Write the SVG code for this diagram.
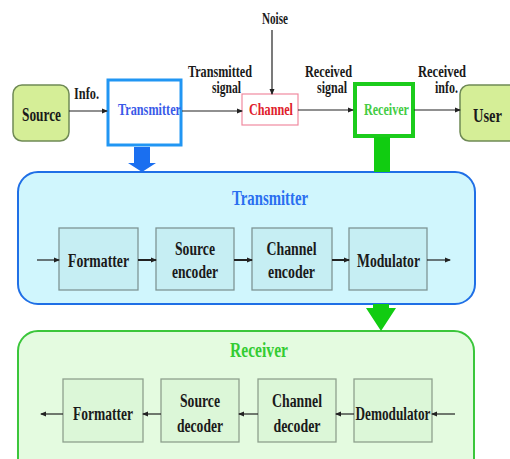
<svg xmlns="http://www.w3.org/2000/svg" width="510" height="459" viewBox="0 0 510 459">
  <defs>
    <marker id="ah" markerWidth="6" markerHeight="6" refX="5" refY="3" orient="auto" markerUnits="userSpaceOnUse">
      <path d="M0,0.5 L6,3 L0,5.5 Z" fill="#222"/>
    </marker>
    <style>
      text { font-family: "Liberation Serif", "Times New Roman", serif; font-weight: bold; text-anchor: middle; }
      .lbl { font-size: 16px; fill: #1a1a1a; }
      .blk { font-size: 18px; fill: #1a1a1a; }
      .term { fill: #d5ee97; stroke: #6f8a55; stroke-width: 1.5; }
      .sub-tx { fill: #c6eef3; stroke: #7e9595; stroke-width: 1.3; }
      .sub-rx { fill: #dcf7d8; stroke: #8ea08e; stroke-width: 1.3; }
      .wire { stroke: #222; stroke-width: 1.2; fill: none; marker-end: url(#ah); }
      .wire2 { stroke: #222; stroke-width: 2; fill: none; marker-end: url(#ah); }
    </style>
  </defs>

  <rect width="510" height="459" fill="#ffffff"/>

  <!-- expanded transmitter panel -->
  <g id="tx-panel">
    <rect x="18" y="172" width="457" height="132" rx="20" fill="#d0f6fd" stroke="#1f6fe6" stroke-width="2"/>
    <text x="270" y="205" font-size="21" fill="#2a6ff0" textLength="76" lengthAdjust="spacingAndGlyphs">Transmitter</text>
  </g>

  <!-- expanded receiver panel -->
  <g id="rx-panel">
    <rect x="18" y="331" width="456" height="150" rx="20" fill="#e4fbe0" stroke="#3bc63b" stroke-width="2"/>
    <text x="259" y="357" font-size="21" fill="#33cc33" textLength="58" lengthAdjust="spacingAndGlyphs">Receiver</text>
  </g>

  <!-- top-level chain -->
  <g id="source">
    <rect class="term" x="13" y="85" width="56" height="56" rx="9"/>
    <text class="blk" x="41.5" y="121" textLength="39" lengthAdjust="spacingAndGlyphs">Source</text>
  </g>
  <g id="transmitter">
    <rect x="108" y="80" width="73" height="65" fill="#ffffff" stroke="#2196f3" stroke-width="3"/>
    <text class="lbl" x="149.5" y="115" style="fill:#3a5ae8" textLength="63" lengthAdjust="spacingAndGlyphs">Transmitter</text>
  </g>
  <g id="channel">
    <rect x="242" y="94" width="56" height="31" fill="#ffffff" stroke="#f08aa0" stroke-width="1.2"/>
    <text class="lbl" x="271" y="115" style="fill:#e0202a" textLength="44" lengthAdjust="spacingAndGlyphs">Channel</text>
  </g>
  <g id="receiver">
    <rect x="355" y="84" width="58" height="52" fill="#ffffff" stroke="#1ccc1c" stroke-width="4"/>
    <text class="lbl" x="386.5" y="115" style="fill:#44cc44" textLength="45" lengthAdjust="spacingAndGlyphs">Receiver</text>
  </g>
  <g id="user">
    <rect class="term" x="460" y="85" width="60" height="56" rx="9"/>
    <text x="487.5" y="122" font-size="19" fill="#1a1a1a" textLength="29" lengthAdjust="spacingAndGlyphs">User</text>
  </g>

  <!-- transmitter stages -->
  <g id="tx-formatter">
    <rect class="sub-tx" x="59" y="228" width="79" height="62"/>
    <text class="blk" x="98.5" y="267" textLength="61" lengthAdjust="spacingAndGlyphs">Formatter</text>
  </g>
  <g id="tx-source-encoder">
    <rect class="sub-tx" x="156" y="228" width="78" height="62"/>
    <text class="blk" x="195" y="255" textLength="40" lengthAdjust="spacingAndGlyphs">Source</text>
    <text class="blk" x="195" y="278" textLength="46" lengthAdjust="spacingAndGlyphs">encoder</text>
  </g>
  <g id="tx-channel-encoder">
    <rect class="sub-tx" x="252" y="228" width="80" height="62"/>
    <text class="blk" x="291.5" y="255" textLength="50" lengthAdjust="spacingAndGlyphs">Channel</text>
    <text class="blk" x="291.5" y="278" textLength="47" lengthAdjust="spacingAndGlyphs">encoder</text>
  </g>
  <g id="tx-modulator">
    <rect class="sub-tx" x="349" y="228" width="78" height="62"/>
    <text class="blk" x="388.5" y="267" textLength="63" lengthAdjust="spacingAndGlyphs">Modulator</text>
  </g>

  <!-- receiver stages -->
  <g id="rx-formatter">
    <rect class="sub-rx" x="63" y="379" width="80" height="63"/>
    <text class="blk" x="103" y="420" textLength="60" lengthAdjust="spacingAndGlyphs">Formatter</text>
  </g>
  <g id="rx-source-decoder">
    <rect class="sub-rx" x="161" y="379" width="78" height="63"/>
    <text class="blk" x="200" y="407" textLength="40" lengthAdjust="spacingAndGlyphs">Source</text>
    <text class="blk" x="200" y="432" textLength="46" lengthAdjust="spacingAndGlyphs">decoder</text>
  </g>
  <g id="rx-channel-decoder">
    <rect class="sub-rx" x="258" y="379" width="78" height="63"/>
    <text class="blk" x="297" y="407" textLength="50" lengthAdjust="spacingAndGlyphs">Channel</text>
    <text class="blk" x="297" y="432" textLength="47" lengthAdjust="spacingAndGlyphs">decoder</text>
  </g>
  <g id="rx-demodulator">
    <rect class="sub-rx" x="354" y="379" width="78" height="63"/>
    <text class="blk" x="393" y="420" textLength="75" lengthAdjust="spacingAndGlyphs">Demodulator</text>
  </g>

  <!-- connectors -->
  <g id="connectors">
    <line class="wire" x1="69" y1="111" x2="107" y2="111"/>
    <line class="wire" x1="182" y1="111" x2="242" y2="111"/>
    <line class="wire" x1="298" y1="110" x2="353" y2="110"/>
    <line class="wire" x1="414" y1="110" x2="460" y2="110"/>
    <line class="wire" x1="272" y1="30" x2="272" y2="94"/>

    <!-- expansion arrows -->
    <polygon points="134,147 150,147 150,163 156,163 142,172 128,163 134,163" fill="#1a6ff0"/>
    <rect x="374" y="137" width="16" height="35" fill="#11cc11"/>
    <polygon points="373,304 389,304 389,308 396,308 381,331 366,308 373,308" fill="#11cc11"/>

    <!-- transmitter chain -->
    <line class="wire" x1="37" y1="260" x2="59" y2="260"/>
    <line class="wire2" x1="138" y1="260" x2="156" y2="260"/>
    <line class="wire2" x1="234" y1="260" x2="252" y2="260"/>
    <line class="wire2" x1="332" y1="260" x2="349" y2="260"/>
    <line class="wire" x1="427" y1="260" x2="450" y2="260"/>

    <!-- receiver chain -->
    <line class="wire" x1="455" y1="414" x2="432" y2="414"/>
    <line class="wire" x1="354" y1="414" x2="336" y2="414"/>
    <line class="wire" x1="258" y1="414" x2="239" y2="414"/>
    <line class="wire" x1="161" y1="414" x2="143" y2="414"/>
    <line class="wire" x1="63" y1="414" x2="41" y2="414"/>
  </g>

  <!-- link labels -->
  <g id="labels">
    <text class="lbl" x="86.5" y="99" textLength="25" lengthAdjust="spacingAndGlyphs">Info.</text>
    <text class="lbl" x="220" y="77" textLength="64" lengthAdjust="spacingAndGlyphs">Transmitted</text>
    <text class="lbl" x="226.5" y="93" textLength="29" lengthAdjust="spacingAndGlyphs">signal</text>
    <text class="lbl" x="275" y="24" textLength="26" lengthAdjust="spacingAndGlyphs">Noise</text>
    <text class="lbl" x="328.5" y="77" textLength="47" lengthAdjust="spacingAndGlyphs">Received</text>
    <text class="lbl" x="332" y="93" textLength="30" lengthAdjust="spacingAndGlyphs">signal</text>
    <text class="lbl" x="442" y="77" textLength="48" lengthAdjust="spacingAndGlyphs">Received</text>
    <text class="lbl" x="446.5" y="93" textLength="23" lengthAdjust="spacingAndGlyphs">info.</text>
  </g>
</svg>
